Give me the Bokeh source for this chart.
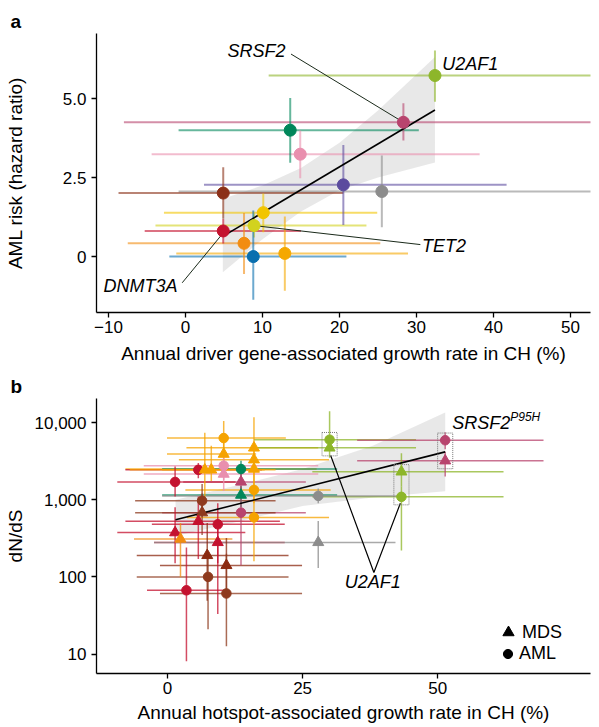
import numpy as np
from bokeh.plotting import figure
from bokeh.models import Range1d, FixedTicker, Title, Legend, LegendItem, ColumnDataSource
from bokeh.layouts import column
from bokeh.embed import file_html
from bokeh.resources import INLINE
from bokeh.core.properties import value

FONT = "Liberation Sans"

# ---------------- Panel a data ----------------
a_gene = ["U2AF1", "SRSF2", "g3", "g4", "g5", "g6", "g7", "g8", "TET2", "DNMT3A", "g11", "g12", "g13"]
a_color = ["#8DB62A", "#B8446E", "#00875A", "#E98FAE", "#5B4B9E", "#8C8C8C", "#8B3018",
           "#F2C500", "#D2D21E", "#C4122F", "#F28C10", "#F5A800", "#0A6FAF"]
a_x = [32.4, 28.3, 13.6, 14.9, 20.5, 25.5, 4.9, 10.1, 8.9, 4.9, 7.6, 12.9, 8.8]
a_y = [5.73, 4.25, 4.0, 3.24, 2.27, 2.06, 2.01, 1.39, 0.98, 0.81, 0.42, 0.10, 0.0]
a_xlo = [10.8, -8.0, -0.9, -4.4, 2.4, -0.9, -8.7, -2.8, -3.9, -5.3, -7.5, -1.2, -2.1]
a_xhi = [70.0, 70.0, 30.3, 38.2, 41.7, 70.0, 20.5, 24.9, 23.5, 15.0, 25.3, 28.9, 20.9]
a_ylo = [4.9, 3.67, 2.97, 2.48, 1.0, 0.93, 1.2, 0.77, 0.6, 0.41, -0.55, -1.08, -1.37]
a_yhi = [6.52, 4.85, 5.02, 3.99, 3.53, 3.2, 2.83, 2.0, 1.37, 1.19, 1.38, 1.27, 1.46]

a_fit_x = [4.85, 32.4]
a_fit_y = [0.64, 4.64]
a_band_x = [4.85, 10.0, 15.0, 20.0, 25.0, 32.4]
a_band_up = [1.83, 2.25, 2.80, 3.60, 4.62, 6.32]
a_band_lo = [-0.50, 0.55, 1.43, 2.10, 2.50, 2.98]

a_lab_text = ["SRSF2", "U2AF1", "TET2", "DNMT3A"]
a_lab_x = [5.45, 33.35, 30.7, -5.85]
a_lab_y = [6.52, 6.11, 0.35, -0.92]
a_lab_align = ["left", "left", "left", "center"]
a_lead_x0 = [13.7, 8.9, -0.43]
a_lead_y0 = [6.41, 0.98, -0.83]
a_lead_x1 = [28.3, 30.5, 4.9]
a_lead_y1 = [4.25, 0.38, 0.75]

# ---------------- Panel b data ----------------
ORG, PINK, RED, GRN, MAG = "#F5A300", "#E98FAE", "#C4122F", "#00875A", "#B8446E"
BRN, DBRN, GRY, LIME, DORG = "#8E3A1E", "#8B2A10", "#8C8C8C", "#8DB62A", "#F28C10"

b_color = [ORG, ORG, ORG, ORG, PINK, PINK, ORG, GRN, RED, ORG, ORG, MAG, RED, ORG, GRN,
           BRN, MAG, BRN, ORG, RED, RED, RED, DORG, RED, DBRN, DBRN, BRN, RED, BRN,
           LIME, LIME, MAG, MAG, LIME, LIME, GRY, GRY]
b_type = ["AML", "MDS", "MDS", "MDS", "AML", "MDS", "MDS", "AML", "AML", "MDS", "MDS", "MDS", "AML", "AML", "MDS",
          "AML", "AML", "MDS", "AML", "MDS", "AML", "MDS", "MDS", "MDS", "MDS", "MDS", "AML", "AML", "AML",
          "AML", "MDS", "AML", "MDS", "MDS", "AML", "AML", "MDS"]
b_x = [10.4, 10.4, 16.0, 16.0, 10.4, 10.4, 16.0, 13.6, 5.7, 6.9, 8.1, 13.6, 1.4, 16.0, 13.6,
       6.4, 13.6, 6.4, 16.0, 5.7, 9.3, 1.4, 2.4, 9.3, 7.35, 10.9, 7.5, 3.5, 10.9,
       30.0, 30.0, 51.4, 51.4, 43.3, 43.3, 27.9, 27.9]
b_y = [6300, 3900, 4700, 3300, 2760, 2150, 2500, 2500, 2440, 2440, 2440, 1700, 1700, 1340, 1150,
       970, 680, 680, 590, 525, 480, 375, 310, 280, 190, 141, 100, 67, 61,
       6000, 4700, 5900, 3200, 2300, 1090, 1120, 280]
b_xlo = [-0.1, -0.1, 3.5, 2.1, -4.4, -4.4, -7.8, -1.0, -7.8, -7.0, -1.0, 2.9, -9.3, 3.3, -1.0,
         -6.0, -1.0, -6.0, 3.6, -7.8, -2.9, -9.3, -6.2, -2.5, -5.7, -1.4, -5.7, -3.8, -1.4,
         16.0, 16.0, 35.1, 35.1, 26.8, 26.8, -1.0, -2.5]
b_xhi = [21.9, 16.4, 27.9, 29.9, 27.9, 27.9, 27.6, 31.4, 17.5, 20.0, 18.0, 25.6, 12.6, 30.2, 31.4,
         20.0, 25.6, 20.0, 29.9, 20.8, 21.7, 14.4, 12.0, 21.7, 22.4, 24.9, 22.4, 10.6, 24.9,
         46.0, 46.0, 69.6, 69.6, 62.2, 62.2, 42.5, 42.2]
b_ylo = [4000, 2900, 2500, 2300, 1800, 1300, 1500, 1900, 1900, 870, 1750, 1100, 1100, 900, 800,
         600, 140, 350, 160, 170, 33, 150, 100, 150, 49, 60, 21, 8.1, 12.6,
         4500, 3500, 4500, 2000, 1500, 220, 900, 130]
b_yhi = [10500, 5500, 11700, 5000, 4000, 3300, 3500, 3200, 3000, 7400, 5000, 2600, 2700, 2300, 1500,
         1600, 1500, 1200, 1500, 1100, 900, 800, 500, 500, 500, 320, 200, 240, 200,
         14000, 6000, 7500, 4200, 4000, 1500, 1400, 530]

b_fit_x = [1.48, 51.4]
b_fit_y = [550, 4170]
b_band_x = [1.48, 12.0, 25.0, 38.0, 51.4]
b_band_up = [1000, 1480, 2500, 5000, 13500]
b_band_lo = [340, 500, 830, 1070, 1290]

# highlighted hotspot pairs (dotted boxes): x, lower point, upper point
b_box_x = [30.0, 43.3, 51.4]
b_box_ylow = [4700, 1090, 3200]
b_box_yhigh = [6000, 2300, 5900]

b_vee_x = [30.2, 38.2, 43.1]
b_vee_y = [3750, 114, 900]

# ---------------- helpers ----------------
def style(p):
    p.grid.visible = False
    p.outline_line_color = None
    p.background_fill_color = "white"
    p.border_fill_color = "white"
    for ax in (p.xaxis, p.yaxis):
        ax.axis_line_color = "black"
        ax.axis_line_width = 1.3
        ax.major_tick_line_color = "black"
        ax.major_tick_line_width = 1.3
        ax.major_tick_out = 5
        ax.major_tick_in = 0
        ax.minor_tick_line_color = None
        ax.major_label_text_font = FONT
        ax.major_label_text_font_size = "17px"
        ax.major_label_text_color = "black"
        ax.axis_label_text_font = FONT
        ax.axis_label_text_font_size = "19px"
        ax.axis_label_text_font_style = "normal"
        ax.axis_label_text_color = "black"
    p.xaxis.major_label_standoff = 3
    p.yaxis.major_label_standoff = 5


def panel_tag(p, letter, standoff):
    p.add_layout(Title(text=letter, align="left", offset=-86, standoff=standoff, text_font=FONT,
                       text_font_style="bold", text_font_size="19px", text_color="black"), "above")


# ---------------- Panel a ----------------
pa = figure(width=599, height=372, x_range=Range1d(-11.56, 52.6), y_range=Range1d(-1.77, 7.06),
            output_backend="svg", toolbar_location=None, min_border_left=96, min_border_right=9,
            min_border_top=33, min_border_bottom=60)
style(pa)
pa.xaxis.ticker = FixedTicker(ticks=[-10, 0, 10, 20, 30, 40, 50])
pa.xaxis.major_label_overrides = {-10: "\u221210"}
pa.yaxis.ticker = FixedTicker(ticks=[0, 2.5, 5])
pa.yaxis.major_label_overrides = {0: "0", 2.5: "2.5", 5: "5.0"}
pa.xaxis.axis_label = "Annual driver gene-associated growth rate in CH (%)"
pa.yaxis.axis_label = "AML risk (hazard ratio)"
pa.xaxis.axis_label_standoff = 7
pa.yaxis.axis_label_standoff = 34
panel_tag(pa, "a", 4)

pa.varea(x=a_band_x, y1=a_band_lo, y2=a_band_up, fill_color="#E6E6E6", fill_alpha=0.9)
src_a = ColumnDataSource(dict(x=a_x, y=a_y, xlo=a_xlo, xhi=a_xhi, ylo=a_ylo, yhi=a_yhi, c=a_color))
pa.segment(x0="xlo", y0="y", x1="xhi", y1="y", source=src_a, line_color="c", line_alpha=0.6, line_width=2)
pa.segment(x0="x", y0="ylo", x1="x", y1="yhi", source=src_a, line_color="c", line_alpha=0.6, line_width=2)
pa.line(a_fit_x, a_fit_y, line_color="black", line_width=1.6)
pa.segment(x0=a_lead_x0, y0=a_lead_y0, x1=a_lead_x1, y1=a_lead_y1, line_color="#1a2a1a", line_width=1)
pa.scatter("x", "y", source=src_a, marker="circle", size=12, fill_color="c", line_color="c")
pa.text(x=a_lab_x, y=a_lab_y, text=a_lab_text, text_align=a_lab_align, text_baseline="middle",
        text_font=value(FONT), text_font_style="italic", text_font_size="18px", text_color="black")

# ---------------- Panel b ----------------
pb = figure(width=599, height=354, x_range=Range1d(-13.15, 78.3), y_range=Range1d(5.6, 20500),
            y_axis_type="log", output_backend="svg", toolbar_location=None,
            min_border_left=96, min_border_right=9, min_border_top=26, min_border_bottom=53)
style(pb)
pb.xaxis.ticker = FixedTicker(ticks=[0, 25, 50])
pb.yaxis.ticker = FixedTicker(ticks=[10, 100, 1000, 10000])
pb.yaxis.major_label_overrides = {10: "10", 100: "100", 1000: "1,000", 10000: "10,000"}
pb.xaxis.axis_label = "Annual hotspot-associated growth rate in CH (%)"
pb.yaxis.axis_label = "dN/dS"
pb.xaxis.axis_label_standoff = 5
pb.yaxis.axis_label_standoff = 6
panel_tag(pb, "b", 3)

pb.varea(x=b_band_x, y1=b_band_lo, y2=b_band_up, fill_color="#E6E6E6", fill_alpha=0.9)
mk = ["triangle" if t == "MDS" else "circle" for t in b_type]
sz = [11 if t == "MDS" else 9.5 for t in b_type]
src_b = ColumnDataSource(dict(x=b_x, y=b_y, xlo=b_xlo, xhi=b_xhi, ylo=b_ylo, yhi=b_yhi, c=b_color, m=mk, s=sz))
pb.segment(x0="xlo", y0="y", x1="xhi", y1="y", source=src_b, line_color="c", line_alpha=0.75, line_width=1.5)
pb.segment(x0="x", y0="ylo", x1="x", y1="yhi", source=src_b, line_color="c", line_alpha=0.75, line_width=1.5)
pb.line(b_fit_x, b_fit_y, line_color="black", line_width=1.6)
pb.line(b_vee_x, b_vee_y, line_color="black", line_width=1.2)
bx = np.array(b_box_x)
pb.quad(left=bx - 1.4, right=bx + 1.4, bottom=np.array(b_box_ylow) / 1.27, top=np.array(b_box_yhigh) * 1.24,
        fill_color=None, line_color="#777777", line_dash="1 1", line_width=1)
pb.scatter("x", "y", source=src_b, marker="m", size="s", fill_color="c", line_color="c")
pb.text(x=[38.0], y=[85], text=["U2AF1"], text_align="center", text_baseline="middle",
        text_font=value(FONT), text_font_style="italic", text_font_size="18px", text_color="black")
pb.text(x=[52.7], y=[9770], text=["SRSF2"], text_align="left", text_baseline="middle",
        text_font=value(FONT), text_font_style="italic", text_font_size="18px", text_color="black")
pb.text(x=[52.7], y=[9770], text=["P95H"], x_offset=58, y_offset=-6, text_align="left", text_baseline="middle",
        text_font=value(FONT), text_font_style="italic", text_font_size="12px", text_color="black")

nan = float("nan")
r_tri = pb.scatter(x=[nan], y=[nan], marker="triangle", fill_color="black", line_color="black")
r_cir = pb.scatter(x=[nan], y=[nan], marker="circle", fill_color="black", line_color="black")
for rend, lab, g, loc, st in [(r_tri, "MDS", 28, (398, 27), -2), (r_cir, "AML", 23, (400, 8), 0)]:
    lg = Legend(items=[LegendItem(label=lab, renderers=[rend])], location=loc, glyph_width=g, glyph_height=g,
                label_standoff=st, padding=0, margin=0, spacing=0, border_line_color=None,
                background_fill_alpha=0, label_text_font=FONT, label_text_font_size="18px",
                label_height=g, label_text_color="black")
    pb.add_layout(lg)

layout = column(pa, pb)
open("out.html", "w").write(file_html(layout, INLINE))
